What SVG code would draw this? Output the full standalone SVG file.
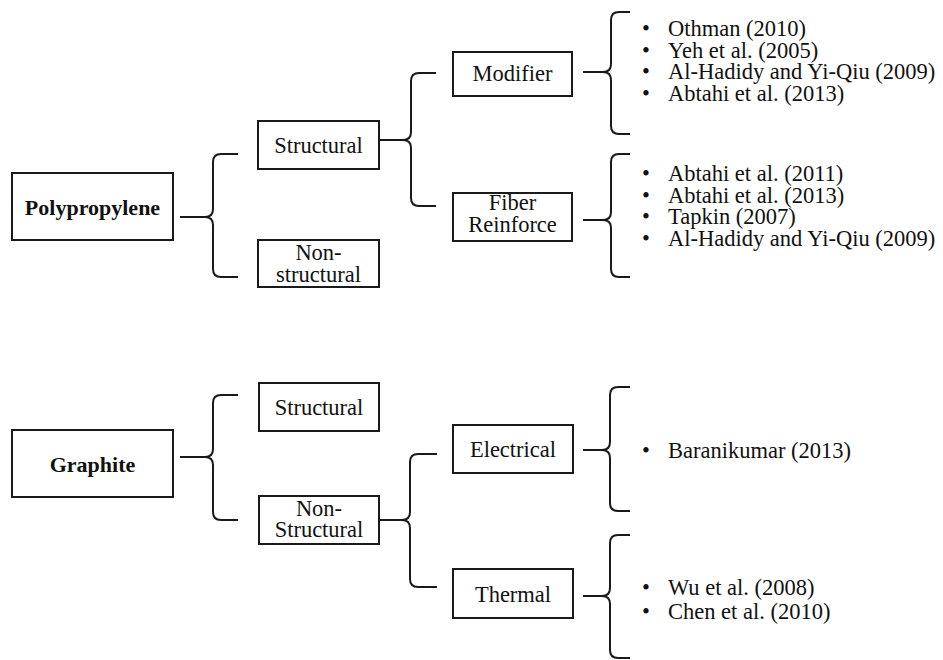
<svg xmlns="http://www.w3.org/2000/svg" width="943" height="660" viewBox="0 0 943 660">
<style>
.box{fill:#fff;stroke:#1a1a1a;stroke-width:2}
.br{fill:none;stroke:#1a1a1a;stroke-width:2}
text{font-family:"Liberation Serif","Times New Roman",serif;font-size:22.5px;fill:#111}
.b{font-weight:bold;font-size:22px}
.c{text-anchor:middle}
</style>
<rect width="943" height="660" fill="#fff"/>
<g id="connectors">
<path class="br" d="M180 217 L205 217 Q213 217 213 209 L213 162 Q213 154 221 154 L238 154 M205 217 Q213 217 213 225 L213 269 Q213 277 221 277 L238 277"/>
<path class="br" d="M379 140 L403 140 Q411 140 411 132 L411 81 Q411 73 419 73 L436 73 M403 140 Q411 140 411 148 L411 198 Q411 206 419 206 L436 206"/>
<path class="br" d="M583 72 L603 72 Q611 72 611 64 L611 20 Q611 12 619 12 L630 12 M603 72 Q611 72 611 80 L611 126 Q611 134 619 134 L630 134"/>
<path class="br" d="M583 220 L603 220 Q611 220 611 212 L611 162 Q611 154 619 154 L630 154 M603 220 Q611 220 611 228 L611 269 Q611 277 619 277 L630 277"/>
<path class="br" d="M180 457 L205 457 Q213 457 213 449 L213 403 Q213 395 221 395 L238 395 M205 457 Q213 457 213 465 L213 512 Q213 520 221 520 L238 520"/>
<path class="br" d="M379 520 L402 520 Q410 520 410 512 L410 462 Q410 454 418 454 L437 454 M402 520 Q410 520 410 528 L410 579 Q410 587 418 587 L437 587"/>
<path class="br" d="M583 450 L602 450 Q610 450 610 442 L610 395 Q610 387 618 387 L630 387 M602 450 Q610 450 610 458 L610 503 Q610 511 618 511 L630 511"/>
<path class="br" d="M583 596 L602 596 Q610 596 610 588 L610 543 Q610 535 618 535 L630 535 M602 596 Q610 596 610 604 L610 650 Q610 658 618 658 L630 658"/>
</g>
<g id="polypropylene"><rect class="box" x="12" y="173" width="161" height="67"/><text class="b c" x="92.5" y="215">Polypropylene</text></g>
<g id="pp-structural"><rect class="box" x="258" y="121" width="121" height="48"/><text class="c" x="318.5" y="153">Structural</text></g>
<g id="pp-nonstructural"><rect class="box" x="258" y="240" width="121" height="47"/><text class="c" x="318.5" y="260">Non-</text><text class="c" x="318.5" y="282">structural</text></g>
<g id="modifier"><rect class="box" x="453" y="52" width="119" height="44"/><text class="c" x="512.5" y="81">Modifier</text></g>
<g id="fiber"><rect class="box" x="453" y="193" width="119" height="48"/><text class="c" x="512.5" y="210">Fiber</text><text class="c" x="512.5" y="232">Reinforce</text></g>
<g id="modifier-refs">
<text x="642" y="36">•</text><text x="668" y="36">Othman (2010)</text>
<text x="642" y="58">•</text><text x="668" y="58">Yeh et al. (2005)</text>
<text x="642" y="79">•</text><text x="668" y="79">Al-Hadidy and Yi-Qiu (2009)</text>
<text x="642" y="101">•</text><text x="668" y="101">Abtahi et al. (2013)</text>
</g>
<g id="fiber-refs">
<text x="642" y="181">•</text><text x="668" y="181">Abtahi et al. (2011)</text>
<text x="642" y="203">•</text><text x="668" y="203">Abtahi et al. (2013)</text>
<text x="642" y="224">•</text><text x="668" y="224">Tapkin (2007)</text>
<text x="642" y="246">•</text><text x="668" y="246">Al-Hadidy and Yi-Qiu (2009)</text>
</g>
<g id="graphite"><rect class="box" x="12" y="430" width="161" height="67"/><text class="b c" x="92.5" y="472">Graphite</text></g>
<g id="g-structural"><rect class="box" x="259" y="383" width="120" height="48"/><text class="c" x="319" y="415">Structural</text></g>
<g id="g-nonstructural"><rect class="box" x="259" y="496" width="120" height="48"/><text class="c" x="319" y="516">Non-</text><text class="c" x="319" y="537">Structural</text></g>
<g id="electrical"><rect class="box" x="453" y="425" width="120" height="48"/><text class="c" x="513" y="457">Electrical</text></g>
<g id="thermal"><rect class="box" x="453" y="569" width="120" height="49"/><text class="c" x="513" y="602">Thermal</text></g>
<g id="electrical-refs"><text x="642" y="458">•</text><text x="668" y="458">Baranikumar (2013)</text></g>
<g id="thermal-refs">
<text x="642" y="595">•</text><text x="668" y="595">Wu et al. (2008)</text>
<text x="642" y="619">•</text><text x="668" y="619">Chen et al. (2010)</text>
</g>
</svg>
